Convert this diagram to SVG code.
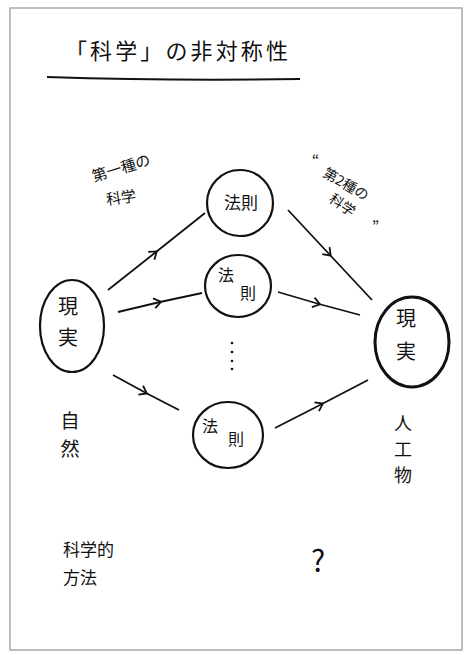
<svg xmlns="http://www.w3.org/2000/svg" width="467" height="655" viewBox="0 0 467 655">
<style>
.t{font-family:"Noto Sans CJK JP","Noto Sans",sans-serif;fill:#111}
.n{fill:none;stroke:#111;stroke-width:2.2}
.c{fill:none;stroke:#111;stroke-width:1.8}
</style>
<defs>
<marker id="ah" markerUnits="userSpaceOnUse" markerWidth="16" markerHeight="16" refX="8" refY="8" orient="auto" viewBox="0 0 16 16">
<path d="M2,3 L9,8 L2,13" fill="none" stroke="#111" stroke-width="1.8"/>
</marker>
</defs>
<rect x="0" y="0" width="467" height="655" fill="#fff"/>
<rect x="10" y="8" width="452" height="642" fill="none" stroke="#aaa" stroke-width="1.5"/>
<g id="title">
<text class="t" x="65" y="59" font-size="22" textLength="223" lengthAdjust="spacing">「科学」の非対称性</text>
<path d="M47,77 Q170,81 300,79" fill="none" stroke="#111" stroke-width="2"/>
</g>
<g id="label-first">
<text class="t" font-size="15" transform="rotate(-17 94 182)" x="94" y="182">第一種の</text>
<text class="t" font-size="15" transform="rotate(-8 107 205)" x="107" y="205">科学</text>
</g>
<g id="label-second">
<text class="t" font-size="15" x="312" y="166">“</text>
<text class="t" font-size="14" transform="rotate(30 322 176)" x="322" y="176">第2種の</text>
<text class="t" font-size="14" transform="rotate(35 328 201)" x="328" y="201">科学</text>
<text class="t" font-size="15" x="372" y="232">”</text>
</g>
<g id="connectors">
<path class="c" d="M108,290 L156,252 L205,213" marker-mid="url(#ah)"/>
<path class="c" d="M118,312 L160,302 L202,293" marker-mid="url(#ah)"/>
<path class="c" d="M113,375 L146,393 L179,410" marker-mid="url(#ah)"/>
<path class="c" d="M288,210 L330,255 L372,300" marker-mid="url(#ah)"/>
<path class="c" d="M278,292 L319,304 L360,315" marker-mid="url(#ah)"/>
<path class="c" d="M275,428 L322,404 L368,380" marker-mid="url(#ah)"/>
</g>
<g id="genjitsu-left">
<ellipse class="n" cx="72" cy="326" rx="32" ry="46"/>
<text class="t" font-size="20" x="68" y="314" text-anchor="middle">現</text>
<text class="t" font-size="20" x="68" y="345" text-anchor="middle">実</text>
</g>
<g id="housoku-1">
<ellipse class="n" cx="240" cy="203" rx="33" ry="33"/>
<text class="t" font-size="17" x="241" y="209" text-anchor="middle">法則</text>
</g>
<g id="housoku-2">
<ellipse class="n" cx="238" cy="286" rx="33" ry="31"/>
<text class="t" font-size="16" x="226" y="281" text-anchor="middle">法</text>
<text class="t" font-size="16" x="248" y="299" text-anchor="middle">則</text>
</g>
<g id="dots" fill="#111">
<circle cx="232" cy="343" r="1.3"/>
<circle cx="232" cy="352" r="1.3"/>
<circle cx="232" cy="361" r="1.3"/>
<circle cx="232" cy="369" r="1.3"/>
</g>
<g id="housoku-3">
<ellipse class="n" cx="228" cy="435" rx="35" ry="33"/>
<text class="t" font-size="16" x="210" y="432" text-anchor="middle">法</text>
<text class="t" font-size="16" x="236" y="445" text-anchor="middle">則</text>
</g>
<g id="genjitsu-right">
<ellipse cx="412" cy="342" rx="37" ry="45" fill="none" stroke="#111" stroke-width="3"/>
<text class="t" font-size="20" x="406" y="326" text-anchor="middle">現</text>
<text class="t" font-size="20" x="406" y="359" text-anchor="middle">実</text>
</g>
<g id="label-shizen">
<text class="t" font-size="19" x="70" y="428" text-anchor="middle">自</text>
<text class="t" font-size="19" x="70" y="456" text-anchor="middle">然</text>
</g>
<g id="label-jinkoubutsu">
<text class="t" font-size="18" x="403" y="430" text-anchor="middle">人</text>
<text class="t" font-size="18" x="403" y="456" text-anchor="middle">工</text>
<text class="t" font-size="18" x="403" y="482" text-anchor="middle">物</text>
</g>
<g id="label-method">
<text class="t" font-size="17" x="63" y="556">科学的</text>
<text class="t" font-size="17" x="63" y="584">方法</text>
</g>
<g id="label-question">
<text class="t" font-size="30" x="318" y="572" text-anchor="middle">?</text>
</g>
</svg>
